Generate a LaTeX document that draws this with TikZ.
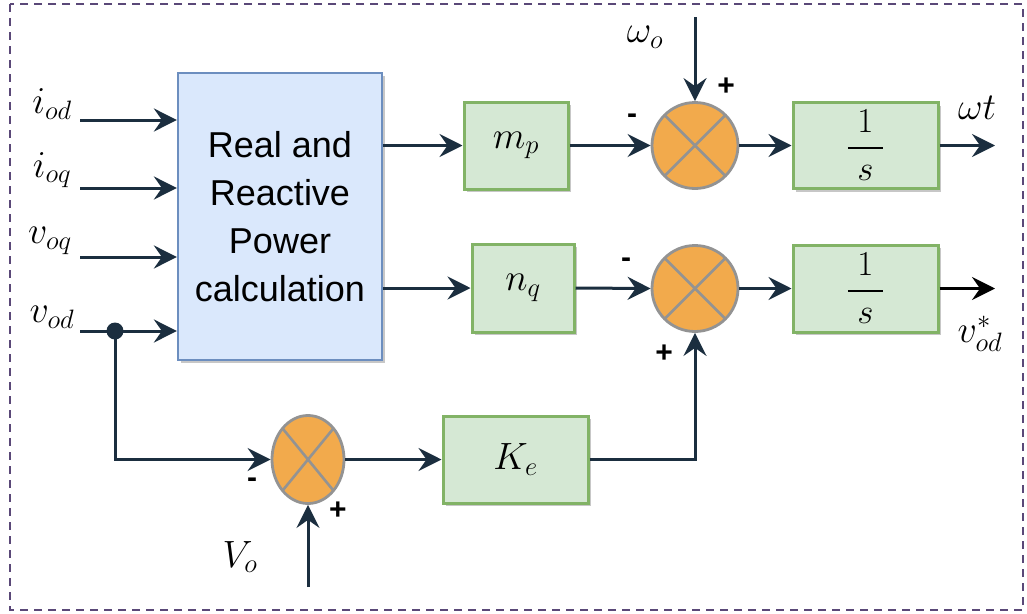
\RequirePackage{fix-cm}
\documentclass[tikz,border=0pt]{standalone}
\usepackage{amsmath}
\usepackage{fontspec}
\newfontfamily\lsans{Liberation Sans}
\usetikzlibrary{arrows.meta,shadows,shapes.geometric}
\definecolor{lc}{HTML}{1B2E3F}
\definecolor{gfill}{HTML}{D5E8D4}
\definecolor{gline}{HTML}{82B366}
\definecolor{bfill}{HTML}{DAE8FC}
\definecolor{bline}{HTML}{6C8EBF}
\definecolor{ofill}{HTML}{F2AA4C}
\definecolor{oline}{HTML}{939393}
\definecolor{frame}{HTML}{5A4878}
\newcommand{\invs}{\genfrac{}{}{2.4pt}{0}{\;1\;}{s}}
\tikzset{
  conn/.style={draw=lc, line width=3pt},
  arr/.style={conn, -{Stealth[length=23pt,width=23pt,inset=8pt]}},
  shad/.style={drop shadow={shadow xshift=3pt, shadow yshift=-3pt, opacity=0.22, fill=black}},
  blk/.style={shad, draw=gline, fill=gfill, line width=3pt, inner sep=0pt,
    font=\fontsize{38}{46}\selectfont},
  bigbox/.style={shad, draw=bline, fill=bfill, line width=2.2pt, inner sep=0pt,
    align=center, font=\lsans\fontsize{36}{48}\selectfont},
  crossx/.style={path picture={\draw[oline, line width=2.6pt]
      (path picture bounding box.north west) -- (path picture bounding box.south east)
      (path picture bounding box.south west) -- (path picture bounding box.north east);}},
  sumc/.style={circle, draw=oline, fill=ofill, line width=2.8pt, minimum size=86pt, inner sep=0pt, crossx},
  sume/.style={ellipse, draw=oline, fill=ofill, line width=2.8pt, minimum width=72pt, minimum height=88pt, inner sep=0pt, crossx},
  lbl/.style={font=\fontsize{38}{46}\selectfont, inner sep=0pt},
  sgn/.style={font=\lsans\bfseries\fontsize{30}{30}\selectfont, inner sep=0pt},
  frac/.style={font=\fontsize{35}{42}\selectfont},
}
\begin{document}
\begin{tikzpicture}[x=1pt,y=-1pt]
\useasboundingbox (0,0) rectangle (1027,613);
\draw[frame, line width=2pt, dash pattern=on 8pt off 6pt] (10,4) rectangle (1023,610);

% nodes
\node[bigbox, minimum width=204pt, minimum height=287pt] (P) at (280,216.5) {Real and\\Reactive\\Power\\calculation};
\node[blk, minimum width=104pt, minimum height=87pt] (mp) at (516,145.5) {$m_p$};
\node[blk, minimum width=102pt, minimum height=88pt] (nq) at (523,288) {$n_q$};
\node[sumc] (s1) at (695,145.5) {};
\node[sumc] (s2) at (695,288.5) {};
\node[blk, frac, minimum width=145pt, minimum height=86pt] (i1) at (865.5,145.5) {$\invs$};
\node[blk, frac, minimum width=145pt, minimum height=87pt] (i2) at (865.5,288.5) {$\invs$};
\node[sume] (s3) at (308,459.5) {};
\node[blk, minimum width=145pt, minimum height=87pt] (ke) at (515.5,459.5) {$K_e$};

% input coordinates
\coordinate (in1) at (80,120);
\coordinate (in2) at (80,188);
\coordinate (in3) at (80,257);
\coordinate (in4) at (80,331);
\coordinate (dot) at (115,331);
\coordinate (wo) at (695,17);
\coordinate (vo) at (308,587);
\coordinate (o1) at (995,145.5);
\coordinate (o2) at (995,288.5);

% input labels
\node[lbl] (lid) at (52,104) {$i_{od}$};
\node[lbl] (liq) at (52,170) {$i_{oq}$};
\node[lbl] (lvq) at (50,241) {$v_{oq}$};
\node[lbl] (lvd) at (52,317) {$v_{od}$};
\node[lbl] (lwo) at (645,37) {$\omega_o$};
\node[lbl] (lwt) at (977,108) {$\omega t$};
\node[lbl] (lvs) at (980,334) {$v_{od}^{*}$};
\node[lbl] (lVo) at (240,557) {$V_o$};

% signs
\node[sgn] (g1) at (632,119) {-};
\node[sgn] (g2) at (726,87) {+};
\node[sgn] (g3) at (626,263) {-};
\node[sgn] (g4) at (664,354) {+};
\node[sgn] (g5) at (252,483) {-};
\node[sgn] (g6) at (338,511) {+};

% connectors
\draw[arr] (in1) -- (in1 -| P.west);
\draw[arr] (in2) -- (in2 -| P.west);
\draw[arr] (in3) -- (in3 -| P.west);
\draw[arr] (in4) -- (in4 -| P.west);
\fill[lc] (dot) circle (8.5pt);
\draw[arr] (P.east |- mp.west) -- (mp.west);
\draw[arr] (P.east |- nq.west) -- (nq.west);
\draw[arr] (mp.east) -- (s1.west);
\draw[arr] (nq.east) -- (s2.west);
\draw[arr] (wo) -- (s1.north);
\draw[arr] (s1.east) -- (i1.west);
\draw[arr] (s2.east) -- (i2.west);
\draw[arr] (i1.east) -- (o1);
\draw[arr, draw=black] (i2.east) -- (o2);
\draw[arr] (dot) |- (s3.west);
\draw[arr] (vo) -- (s3.south);
\draw[arr] (s3.east) -- (ke.west);
\draw[arr] (ke.east) -| (s2.south);
\end{tikzpicture}
\end{document}
